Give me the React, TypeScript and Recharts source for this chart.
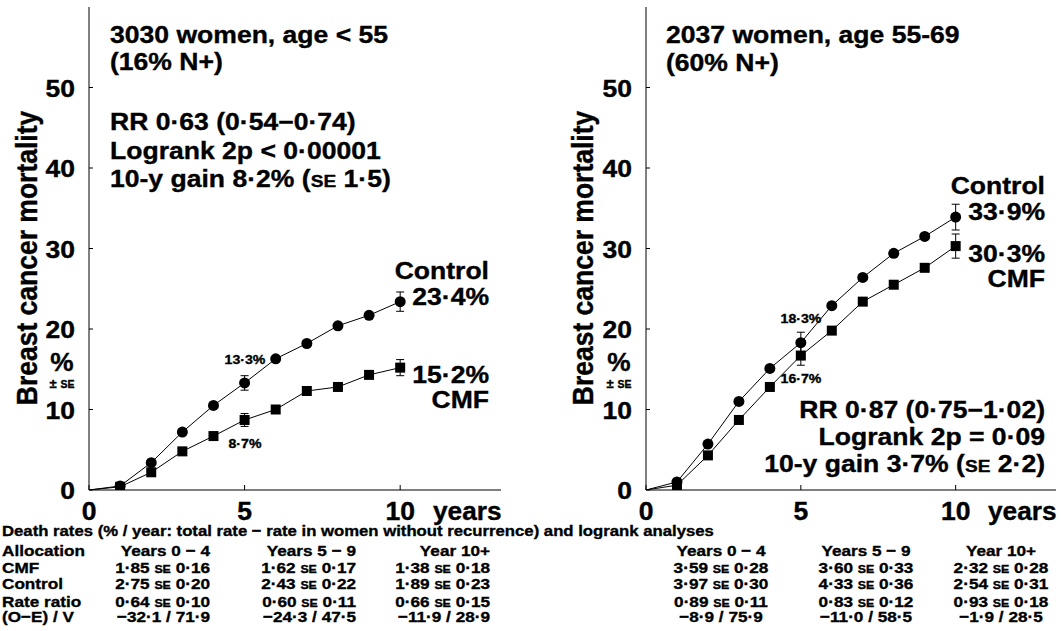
import React from "react";
import { LineChart, Line, XAxis, YAxis, ErrorBar } from "recharts";

const years = [0, 1, 2, 3, 4, 5, 6, 7, 8, 9, 10];

// age < 55
const youngControl = [0, 0.5, 3.4, 7.2, 10.5, 13.3, 16.3, 18.2, 20.4, 21.7, 23.4];
const youngCmf = [0, 0.4, 2.2, 4.8, 6.7, 8.7, 10.0, 12.3, 12.8, 14.3, 15.2];
const youngControlSe = [null, null, null, null, null, 0.9, null, null, null, null, 1.2];
const youngCmfSe = [null, null, null, null, null, 0.8, null, null, null, null, 1.0];

// age 55-69
const olderControl = [0, 1.0, 5.7, 11.0, 15.1, 18.3, 22.9, 26.4, 29.4, 31.5, 33.9];
const olderCmf = [0, 0.6, 4.3, 8.7, 12.8, 16.7, 19.8, 23.4, 25.5, 27.6, 30.3];
const olderControlSe = [null, null, null, null, null, 1.3, null, null, null, null, 1.6];
const olderCmfSe = [null, null, null, null, null, 1.2, null, null, null, null, 1.5];

const xTicks = [0, 5, 10];
const yTicks = [0, 10, 20, 30, 40, 50];
const X_MAX = 13.24;

const tableCols = ["Years 0 \u2212 4", "Years 5 \u2212 9", "Year 10+"];
const rowLabels = ["Allocation", "CMF", "Control", "Rate ratio", "(O\u2212E) / V"];
const youngRates = [
  ["1\u00b785", "0\u00b716", "1\u00b762", "0\u00b717", "1\u00b738", "0\u00b718"],
  ["2\u00b775", "0\u00b720", "2\u00b743", "0\u00b722", "1\u00b789", "0\u00b723"],
  ["0\u00b764", "0\u00b710", "0\u00b760", "0\u00b711", "0\u00b766", "0\u00b715"],
];
const youngOE = ["\u221232\u00b71 / 71\u00b79", "\u221224\u00b73 / 47\u00b75", "\u221211\u00b79 / 28\u00b79"];
const olderRates = [
  ["3\u00b759", "0\u00b728", "3\u00b760", "0\u00b733", "2\u00b732", "0\u00b728"],
  ["3\u00b797", "0\u00b730", "4\u00b733", "0\u00b736", "2\u00b754", "0\u00b731"],
  ["0\u00b789", "0\u00b711", "0\u00b783", "0\u00b712", "0\u00b793", "0\u00b718"],
];
const olderOE = ["\u22128\u00b79 / 75\u00b79", "\u221211\u00b70 / 58\u00b75", "\u22121\u00b79 / 28\u00b75"];

const FONT = '"Liberation Sans", Arial, Helvetica, sans-serif';
const SX = 1.13;
const BIG = 23.5;

// one text element, several lines (baselines given in page pixels)
function Block({ x, anchor = "start", sx = SX, size, lines }: any) {
  return (
    <text transform={`translate(${x},0) scale(${sx},1)`} fontSize={size} textAnchor={anchor}>
      {lines.map((l: any, i: number) => (
        <tspan key={i} x={0} y={l[0]} fontSize={l[2]}>
          {l[1]}
        </tspan>
      ))}
    </text>
  );
}

const se = (size: number) => <tspan fontSize={size * 0.72}>SE</tspan>;

const YTick = ({ x, y, payload }: any) => (
  <g>
    <line x1={x} x2={x + 4} y1={y} y2={y} stroke="#000" />
    <text
      transform={`translate(${x - 14},${y + 9}) scale(1.08,1)`}
      textAnchor="end"
      fontSize={24.5}
      fontWeight="bold"
      fontFamily={FONT}
      stroke="#000"
      strokeWidth={0.4}
    >
      {payload.value}
    </text>
  </g>
);

const RightTick = ({ x, y }: any) => <line x1={x} x2={x - 5} y1={y} y2={y} stroke="#000" />;

const XTick = ({ x, y, payload }: any) => (
  <g>
    <line x1={x} x2={x} y1={y} y2={y - 5} stroke="#000" />
    <text
      transform={`translate(${x},${y + 30}) scale(1.06,1)`}
      textAnchor="middle"
      fontSize={25}
      fontWeight="bold"
      fontFamily={FONT}
      stroke="#000"
      strokeWidth={0.4}
    >
      {payload.value}
    </text>
  </g>
);

const circleDot = (p: any) =>
  p.index === 0 ? <g key={`c${p.index}`} /> : <circle key={`c${p.index}`} cx={p.cx} cy={p.cy} r={5.5} fill="#000" />;

const squareDot = (p: any) =>
  p.index === 0 ? (
    <g key={`s${p.index}`} />
  ) : (
    <rect key={`s${p.index}`} x={p.cx - 5} y={p.cy - 5} width={10} height={10} fill="#000" />
  );

function Panel({ left, width, axisWidth, rightMargin, control, cmf, controlSe, cmfSe }: any) {
  const data = years.map((year, i) => ({
    year,
    control: control[i],
    cmf: cmf[i],
    controlSe: controlSe[i],
    cmfSe: cmfSe[i],
  }));
  return (
    <div style={{ position: "absolute", left, top: 0 }}>
      <LineChart width={width} height={540} data={data} margin={{ top: 7, right: rightMargin, bottom: 10, left: 0 }}>
        <XAxis
          xAxisId="top"
          orientation="top"
          dataKey="year"
          type="number"
          domain={[0, X_MAX]}
          height={0}
          tick={false}
          tickLine={false}
          stroke="#000"
          allowDataOverflow
        />
        <XAxis
          dataKey="year"
          type="number"
          domain={[0, X_MAX]}
          ticks={xTicks}
          interval={0}
          height={40}
          tickSize={0}
          tickMargin={0}
          tickLine={false}
          tick={(p: any) => <XTick {...p} />}
          stroke="#000"
          allowDataOverflow
        />
        <YAxis
          type="number"
          domain={[0, 60]}
          ticks={yTicks}
          interval={0}
          width={axisWidth}
          tickSize={0}
          tickMargin={0}
          tickLine={false}
          tick={(p: any) => <YTick {...p} />}
          stroke="#000"
          allowDataOverflow
        />
        <YAxis
          yAxisId="r"
          orientation="right"
          type="number"
          domain={[0, 60]}
          ticks={yTicks}
          interval={0}
          width={0}
          tickSize={0}
          tickMargin={0}
          tickLine={false}
          tick={(p: any) => <RightTick {...p} />}
          stroke="#000"
          allowDataOverflow
        />
        <Line dataKey="control" stroke="#000" strokeWidth={1} dot={circleDot} isAnimationActive={false}>
          <ErrorBar dataKey="controlSe" width={4} stroke="#000" strokeWidth={1} direction="y" />
        </Line>
        <Line dataKey="cmf" stroke="#000" strokeWidth={1} dot={squareDot} isAnimationActive={false}>
          <ErrorBar dataKey="cmfSe" width={4} stroke="#000" strokeWidth={1} direction="y" />
        </Line>
      </LineChart>
    </div>
  );
}

function AxisTitle({ x, axisX }: any) {
  return (
    <g>
      <text transform={`translate(${x},258) rotate(-90) scale(1,${SX})`} fontSize={26.5} textAnchor="middle">
        Breast cancer mortality
      </text>
      <Block
        x={axisX - 27}
        anchor="middle"
        sx={1.05}
        size={25}
        lines={[
          [371, "%", 25],
          [388, <>{"\u00b1 "}<tspan fontSize={10}>SE</tspan></>, 12.5],
        ]}
      />
    </g>
  );
}

function TableCols({ x, anchor, rates, oe }: any) {
  const sz = 15.2;
  return (
    <g>
      {tableCols.map((c, j) => (
        <Block
          key={c}
          x={x[j]}
          anchor={anchor}
          size={sz}
          lines={[
            [556.5, c],
            ...rates.map((r: string[], i: number) => [
              [573, 589, 607][i],
              <>
                {r[j * 2]} {se(sz)} {r[j * 2 + 1]}
              </>,
            ]),
            [622.5, oe[j]],
          ]}
        />
      ))}
    </g>
  );
}

export default function App() {
  const rowsY = [556.5, 573, 589, 607, 622.5];
  const d = "\u00b7";
  return (
    <div style={{ position: "absolute", left: 0, top: 0, width: 1062, height: 631, background: "#fff" }}>
      <Panel
        left={0}
        width={520}
        axisWidth={89}
        rightMargin={19}
        control={youngControl}
        cmf={youngCmf}
        controlSe={youngControlSe}
        cmfSe={youngCmfSe}
      />
      <Panel
        left={556}
        width={506}
        axisWidth={90}
        rightMargin={6}
        control={olderControl}
        cmf={olderCmf}
        controlSe={olderControlSe}
        cmfSe={olderCmfSe}
      />
      <svg
        width={1062}
        height={631}
        style={{ position: "absolute", left: 0, top: 0, pointerEvents: "none" }}
        fontFamily={FONT}
        fontWeight="bold"
        fill="#000"
        stroke="#000"
        strokeWidth={0.35}
      >
        {/* left panel */}
        <AxisTitle x={37} axisX={89} />
        <Block x={110} size={BIG} lines={[[43, "3030 women, age < 55"], [70, "(16% N+)"]]} />
        <Block
          x={110}
          size={BIG}
          lines={[
            [130, `RR 0${d}63 (0${d}54\u22120${d}74)`],
            [159, `Logrank 2p < 0${d}00001`],
            [187, <>10-y gain 8{d}2% ({se(BIG)} 1{d}5)</>],
          ]}
        />
        <Block x={489} anchor="end" size={BIG} lines={[[279, "Control"], [305, `23${d}4%`]]} />
        <Block x={489} anchor="end" size={BIG} lines={[[383, `15${d}2%`], [408, "CMF"]]} />
        <Block x={245} anchor="middle" size={12.5} lines={[[364, `13${d}3%`]]} />
        <Block x={245} anchor="middle" size={12.5} lines={[[448, `8${d}7%`]]} />
        <Block x={433} size={25} sx={1.05} lines={[[520, "years"]]} />

        {/* right panel */}
        <AxisTitle x={593} axisX={646} />
        <Block x={666} size={BIG} lines={[[43, "2037 women, age 55-69"], [71, "(60% N+)"]]} />
        <Block x={1045} anchor="end" size={BIG} lines={[[194, "Control"], [220, `33${d}9%`]]} />
        <Block x={1045} anchor="end" size={BIG} lines={[[262, `30${d}3%`], [287, "CMF"]]} />
        <Block x={801} anchor="middle" size={12.5} lines={[[323, `18${d}3%`]]} />
        <Block x={801} anchor="middle" size={12.5} lines={[[383, `16${d}7%`]]} />
        <Block
          x={1045}
          anchor="end"
          size={BIG}
          lines={[
            [418, `RR 0${d}87 (0${d}75\u22121${d}02)`],
            [445, `Logrank 2p = 0${d}09`],
            [472, <>10-y gain 3{d}7% ({se(BIG)} 2{d}2)</>],
          ]}
        />
        <Block x={988} size={25} sx={1.05} lines={[[520, "years"]]} />

        {/* table */}
        <Block
          x={2}
          size={15.2}
          sx={1.1}
          lines={[[536, "Death rates (% / year: total rate \u2212 rate in women without recurrence) and logrank analyses"]]}
        />
        <Block x={2} size={15.2} lines={rowLabels.map((r, i) => [rowsY[i], r])} />
        <TableCols x={[210, 356, 490]} anchor="end" rates={youngRates} oe={youngOE} />
        <TableCols x={[721, 866, 1001]} anchor="middle" rates={olderRates} oe={olderOE} />
      </svg>
    </div>
  );
}
